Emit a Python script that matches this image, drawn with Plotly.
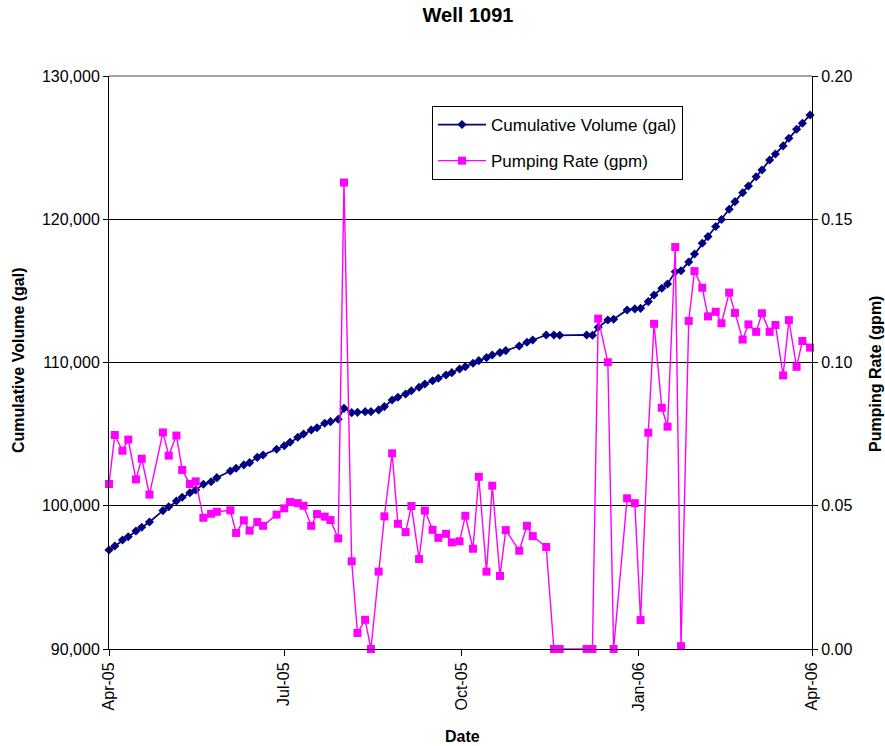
import plotly.graph_objects as go

# Sampling dates (Mondays / Fridays), Apr 2005 - Mar 2006
dates = [
    "2005-04-01", "2005-04-04", "2005-04-08", "2005-04-11", "2005-04-15", "2005-04-18",
    "2005-04-22", "2005-04-29",
    "2005-05-02", "2005-05-06", "2005-05-09", "2005-05-13", "2005-05-16", "2005-05-20",
    "2005-05-24", "2005-05-27",
    "2005-06-03", "2005-06-06", "2005-06-10", "2005-06-13", "2005-06-17", "2005-06-20",
    "2005-06-27",
    "2005-07-01", "2005-07-04", "2005-07-08", "2005-07-11", "2005-07-15", "2005-07-18",
    "2005-07-22", "2005-07-25", "2005-07-29",
    "2005-08-01", "2005-08-05", "2005-08-08", "2005-08-12", "2005-08-15", "2005-08-19",
    "2005-08-22", "2005-08-26", "2005-08-29",
    "2005-09-02", "2005-09-05", "2005-09-09", "2005-09-12", "2005-09-16", "2005-09-19",
    "2005-09-23", "2005-09-26", "2005-09-30",
    "2005-10-03", "2005-10-07", "2005-10-10", "2005-10-14", "2005-10-17", "2005-10-21",
    "2005-10-24", "2005-10-31",
    "2005-11-04", "2005-11-07", "2005-11-14", "2005-11-18", "2005-11-21",
    "2005-12-05", "2005-12-08", "2005-12-11", "2005-12-16", "2005-12-19", "2005-12-26",
    "2005-12-30",
    "2006-01-02", "2006-01-06", "2006-01-09", "2006-01-13", "2006-01-16", "2006-01-20",
    "2006-01-23", "2006-01-27", "2006-01-30",
    "2006-02-03", "2006-02-06", "2006-02-10", "2006-02-13", "2006-02-17", "2006-02-20",
    "2006-02-24", "2006-02-27",
    "2006-03-03", "2006-03-06", "2006-03-10", "2006-03-13", "2006-03-17", "2006-03-20",
    "2006-03-24", "2006-03-27", "2006-03-31",
]

# Cumulative volume (gal)
cumulative_volume = [
    96910, 97190, 97610, 97840, 98240, 98500, 98870, 99660,
    99930, 100330, 100590, 100910, 101100, 101500, 101680, 101960,
    102430, 102620, 102850, 103010, 103380, 103540, 103940,
    104190, 104430, 104780, 105010, 105290, 105450, 105760, 105870, 106040,
    106800, 106500, 106520, 106570, 106570, 106690, 106920, 107380, 107570,
    107800, 108030, 108270, 108500, 108730, 108900, 109130, 109290, 109550,
    109710, 109950, 110130, 110340, 110520, 110690, 110830, 111150,
    111410, 111570, 111920, 111920, 111900,
    111920, 111900, 112460, 112970, 113020, 113670, 113740,
    113780, 114250, 114710, 115180, 115480, 116340, 116410, 117020, 117570,
    118320, 118790, 119490, 119980, 120700, 121230, 121850, 122320,
    122970, 123440, 124140, 124560, 125120, 125650, 126280, 126700, 127280,
]

# Pumping rate (gpm)
pumping_rate = [
    0.0576, 0.0747, 0.0692, 0.0731, 0.0592, 0.0664, 0.0539, 0.0756,
    0.0675, 0.0745, 0.0625, 0.0576, 0.0585, 0.0458, 0.0472, 0.0479,
    0.0484, 0.0405, 0.0449, 0.0413, 0.0443, 0.0430, 0.0469,
    0.0491, 0.0513, 0.0509, 0.0500, 0.0430, 0.0471, 0.0462, 0.0450, 0.0386,
    0.1628, 0.0306, 0.0056, 0.0102, 0.0000, 0.0270, 0.0463, 0.0683, 0.0437,
    0.0408, 0.0499, 0.0314, 0.0483, 0.0416, 0.0388, 0.0402, 0.0372, 0.0376,
    0.0465, 0.0350, 0.0601, 0.0270, 0.0570, 0.0255, 0.0415, 0.0343,
    0.0430, 0.0394, 0.0356, 0.0000, 0.0000,
    0.0000, 0.0000, 0.1153, 0.1001, 0.0000, 0.0526, 0.0509,
    0.0101, 0.0755, 0.1135, 0.0842, 0.0776, 0.1403, 0.0010, 0.1145, 0.1319,
    0.1261, 0.1161, 0.1177, 0.1137, 0.1244, 0.1173, 0.1080, 0.1133,
    0.1107, 0.1172, 0.1107, 0.1131, 0.0955, 0.1148, 0.0985, 0.1075, 0.1052,
]

x_tickvals = ["2005-04-01", "2005-07-01", "2005-10-01", "2006-01-01", "2006-04-01"]
x_ticktext = ["Apr-05", "Jul-05", "Oct-05", "Jan-06", "Apr-06"]
vol_ticks = [90000, 100000, 110000, 120000, 130000]
rate_ticks = [0.0, 0.05, 0.10, 0.15, 0.20]

FONT = "Liberation Sans, Arial, sans-serif"
NAVY = "#000080"
MAGENTA = "#FF00FF"

fig = go.Figure()

fig.add_trace(go.Scatter(
    x=dates, y=cumulative_volume, name="Cumulative Volume (gal)",
    mode="lines+markers", yaxis="y", legendgroup="vol",
    line=dict(color=NAVY, width=1.75),
    marker=dict(symbol="diamond", size=7, color=NAVY),
    cliponaxis=False,
))

fig.add_trace(go.Scatter(
    x=dates, y=pumping_rate, name="Pumping Rate (gpm)",
    mode="lines+markers", yaxis="y2", legendgroup="rate",
    line=dict(color=MAGENTA, width=1.4),
    marker=dict(symbol="square", size=8, color=MAGENTA),
    cliponaxis=False,
))

fig.update_layout(
    width=885, height=746,
    margin=dict(l=109, r=73, t=76, b=97),
    paper_bgcolor="white", plot_bgcolor="white",
    font=dict(family=FONT, size=16, color="black"),
    title=dict(text="<b>Well 1091</b>", x=468 / 885, xanchor="center",
               y=1 - 15 / 746, yanchor="middle", yref="container",
               font=dict(family=FONT, size=20, color="black")),
    showlegend=True,
    legend=dict(x=(432 - 109) / 703, y=(649 - 106) / 573, xanchor="left", yanchor="top",
                bgcolor="white", bordercolor="black", borderwidth=1,
                font=dict(family=FONT, size=17, color="black"),
                itemwidth=48, tracegroupgap=11, traceorder="grouped"),
    xaxis=dict(type="date", range=["2005-04-01", "2006-04-01"],
               tickvals=x_tickvals, ticktext=x_ticktext, tickangle=-90,
               showgrid=False, showline=True, linecolor="black", linewidth=1,
               ticks="outside", ticklen=6, tickcolor="black",
               tickfont=dict(family=FONT, size=16), zeroline=False),
    yaxis=dict(range=[90000, 130000], tickvals=vol_ticks, tickformat=",",
               showgrid=True, gridcolor="black", gridwidth=1,
               showline=True, linecolor="black", linewidth=1,
               ticks="outside", ticklen=5, tickcolor="black",
               tickfont=dict(family=FONT, size=16), zeroline=False),
    yaxis2=dict(range=[0, 0.2], tickvals=rate_ticks, tickformat=".2f",
                overlaying="y", side="right", showgrid=False,
                showline=True, linecolor="black", linewidth=1,
                ticks="outside", ticklen=5, tickcolor="black",
                tickfont=dict(family=FONT, size=16), zeroline=False),
    annotations=[
        dict(text="<b>Cumulative Volume (gal)</b>", xref="paper", yref="paper",
             x=(18 - 109) / 703, y=(649 - 360) / 573, textangle=-90, showarrow=False,
             xanchor="center", yanchor="middle", font=dict(family=FONT, size=16)),
        dict(text="<b>Pumping Rate (gpm)</b>", xref="paper", yref="paper",
             x=(876 - 109) / 703, y=(649 - 374) / 573, textangle=-90, showarrow=False,
             xanchor="center", yanchor="middle", font=dict(family=FONT, size=16)),
        dict(text="<b>Date</b>", xref="paper", yref="paper",
             x=(462 - 109) / 703, y=(649 - 736) / 573, showarrow=False,
             xanchor="center", yanchor="middle", font=dict(family=FONT, size=16)),
    ],
    shapes=[
        # gray frame line along the top of the plot area
        dict(type="line", xref="paper", yref="paper", x0=0, x1=1, y0=1, y1=1,
             line=dict(color="#808080", width=1.5), layer="above"),
    ],
)

fig.write_html("out.html")
